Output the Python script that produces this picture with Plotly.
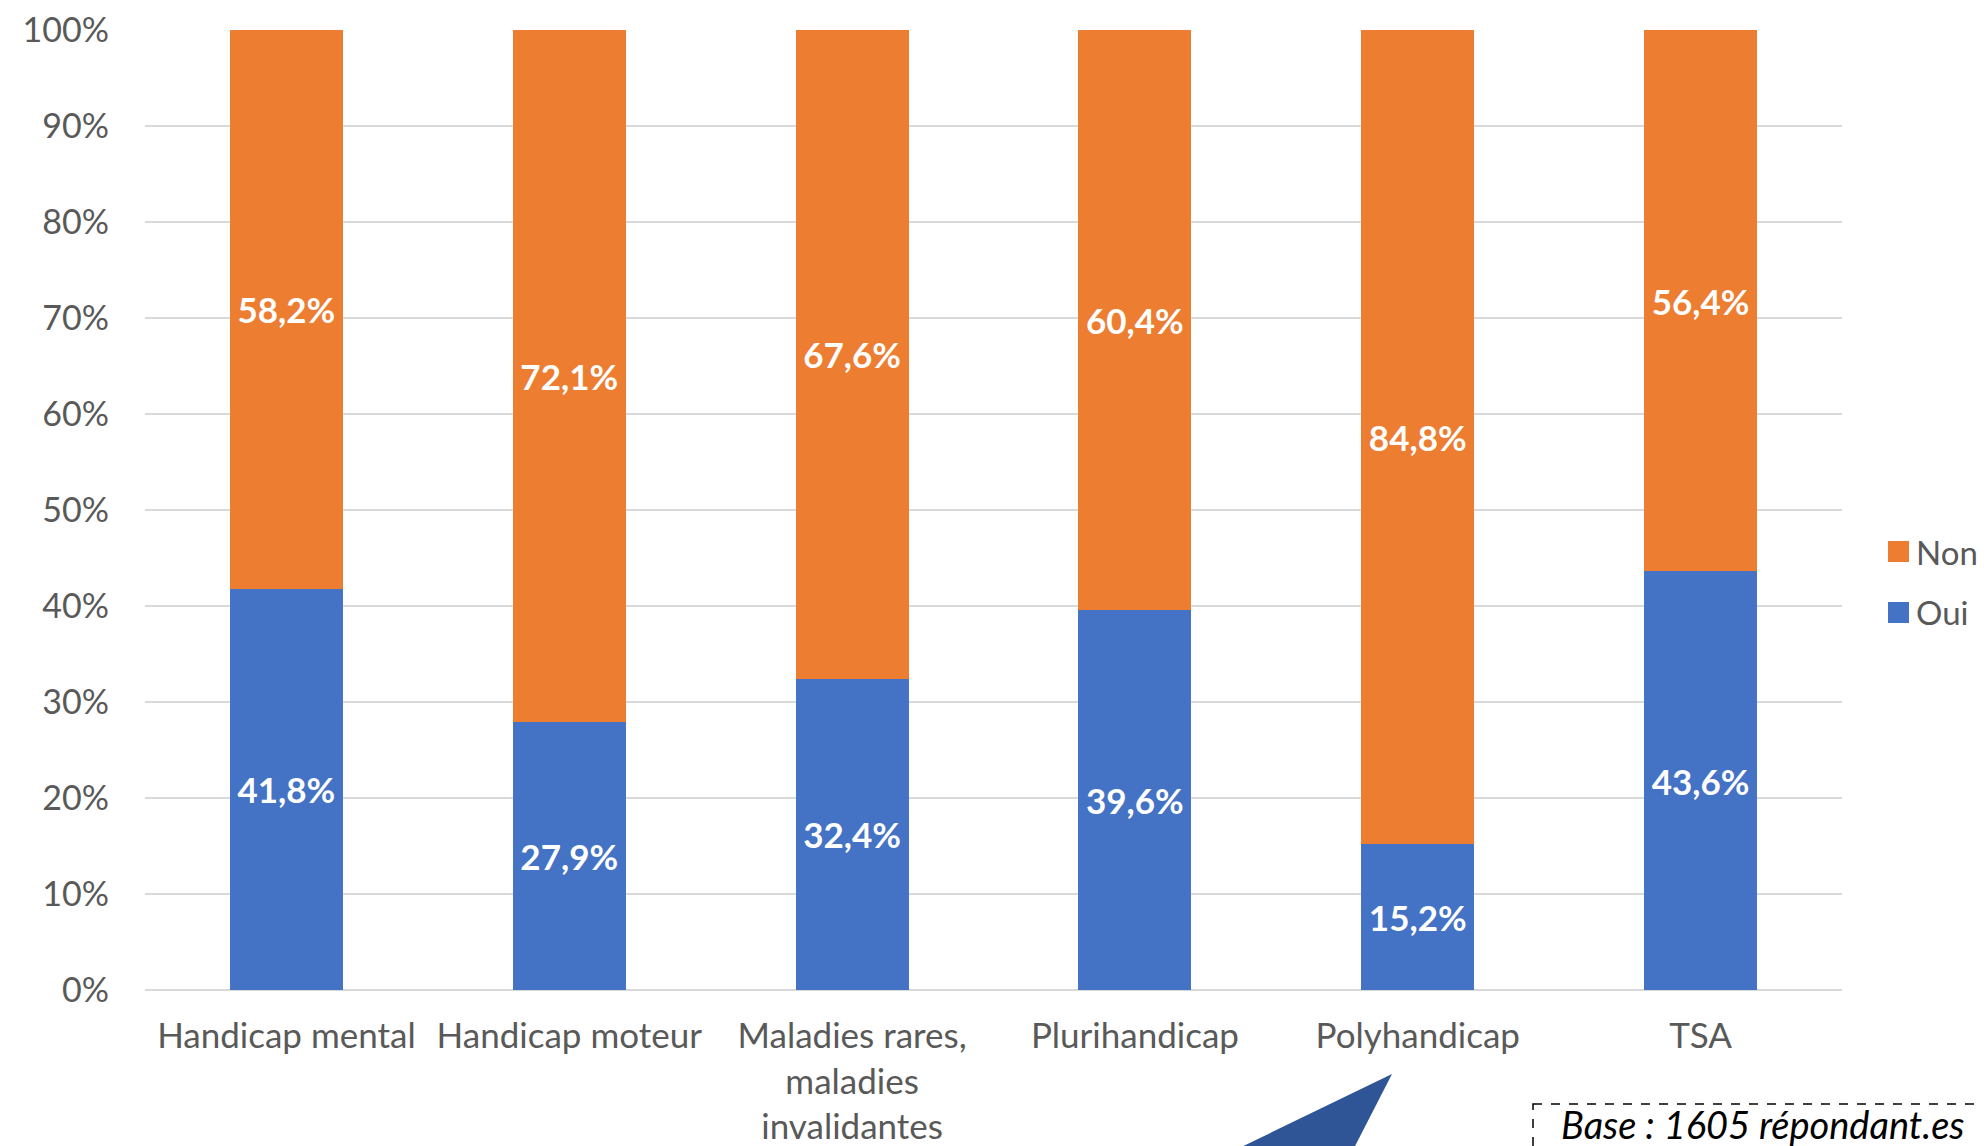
import plotly.graph_objects as go

categories = ["Handicap mental", "Handicap moteur", "Maladies rares,<br>maladies<br>invalidantes",
              "Plurihandicap", "Polyhandicap", "TSA"]
oui = [41.8, 27.9, 32.4, 39.6, 15.2, 43.6]
non = [58.2, 72.1, 67.6, 60.4, 84.8, 56.4]
series_names = ["Oui", "Non"]
colors = {"Oui": "#4472C4", "Non": "#ED7D31"}
y_ticks = list(range(0, 101, 10))
y_tick_labels = [f"{v}%" for v in y_ticks]
base_note = "Base : 1605 répondant.es"

FONT = "Lato, Carlito, Calibri, sans-serif"
# page body has an 8px margin: figure covers screen pixels 8..1986 x 8..1146
OFF = 8
W, H = 1986 - OFF, 1146 - OFF
L, R, T, B = 145 - OFF, 1986 - 1842, 30 - OFF, 1146 - 990
PW, PH = W - L - R, H - T - B


def px(x):
    """screen x pixel -> paper x"""
    return (x - OFF - L) / PW


def py(y):
    """screen y pixel -> paper y"""
    return (H - B - (y - OFF)) / PH


def fmt(v):
    return f"{v:.1f}".replace(".", ",") + "%"


fig = go.Figure()
for name, vals in zip(series_names, [oui, non]):
    fig.add_trace(go.Bar(
        x=categories, y=vals, name=name,
        marker=dict(color=colors[name], line=dict(width=0)),
        text=[fmt(v) for v in vals], textposition="inside",
        insidetextanchor="middle", textangle=0,
        textfont=dict(family=FONT, size=35, color="white", weight="bold"),
        showlegend=False, hoverinfo="skip",
    ))

# manual legend (Non on top, Oui below)
legend_items = [("Non", 541), ("Oui", 602)]
for name, top in legend_items:
    fig.add_shape(type="rect", xref="paper", yref="paper",
                  x0=px(1888), x1=px(1909), y0=py(top), y1=py(top + 21),
                  fillcolor=colors[name], line=dict(width=0))
    fig.add_annotation(text=name, xref="paper", yref="paper",
                       x=px(1914), y=py(top + 10.5), xanchor="left", yanchor="middle",
                       showarrow=False, font=dict(family=FONT, size=33, color="#595959"))

# callout triangle
fig.add_shape(type="path", xref="paper", yref="paper",
              path=f"M {px(1392)},{py(1074)} L {px(1231)},{py(1152)} L {px(1352)},{py(1152)} Z",
              fillcolor="#2F5597", line=dict(width=0))

# dashed note box
fig.add_shape(type="rect", xref="paper", yref="paper",
              x0=px(1533), x1=px(2010), y0=py(1104), y1=py(1170),
              fillcolor="rgba(0,0,0,0)", line=dict(color="black", width=1.5, dash="dash"))
fig.add_annotation(text=f"<i>{base_note}</i>", xref="paper", yref="paper",
                   x=px(1560), y=py(1148), xanchor="left", yanchor="bottom", borderpad=0,
                   showarrow=False, font=dict(family=FONT, size=38, color="black"))

fig.update_layout(
    width=W, height=H, barmode="stack", bargap=0.6,
    plot_bgcolor="white", paper_bgcolor="white",
    margin=dict(l=L, r=R, t=T, b=B, autoexpand=False),
    font=dict(family=FONT, size=35, color="#595959"),
    showlegend=False,
)
fig.update_xaxes(showline=False, showgrid=False, ticks="", ticklabelstandoff=22,
                 tickfont=dict(family=FONT, size=35, color="#595959"))
fig.update_yaxes(range=[0, 100], tickmode="array", tickvals=y_ticks, ticktext=y_tick_labels,
                 showgrid=True, gridcolor="#D9D9D9", gridwidth=2,
                 zeroline=True, zerolinecolor="#D9D9D9", zerolinewidth=2,
                 showline=False, ticks="", ticklabelstandoff=35, ticklabeloverflow="allow",
                 tickfont=dict(family=FONT, size=34, color="#595959"))

fig.write_html("out.html")
